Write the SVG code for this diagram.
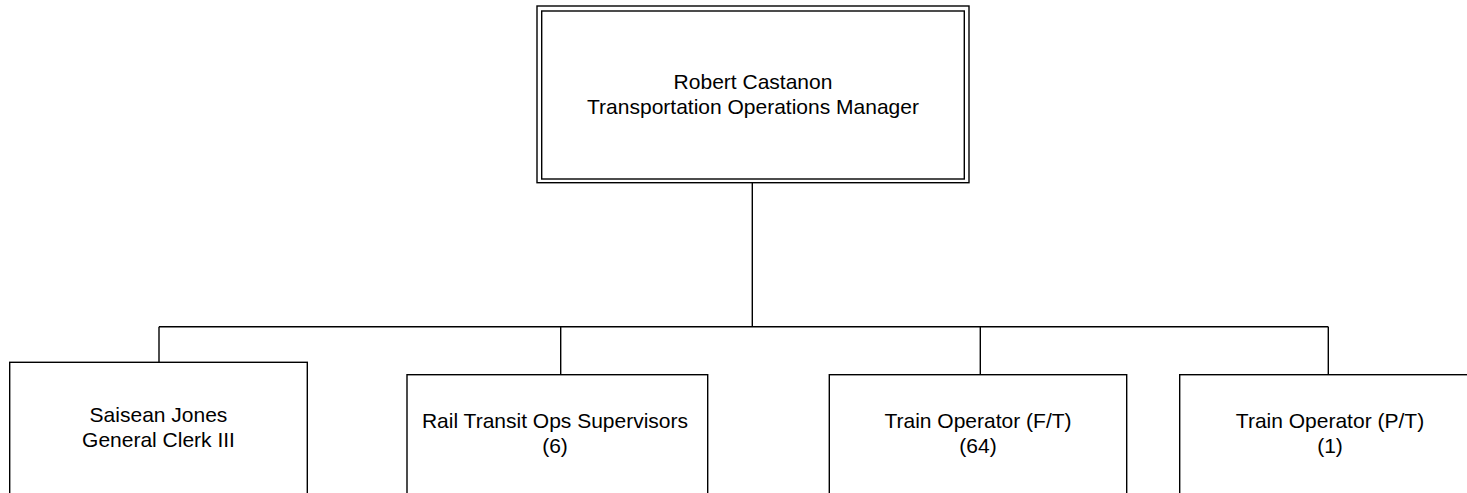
<svg xmlns="http://www.w3.org/2000/svg" width="1467" height="493" viewBox="0 0 1467 493">
  <style>
    .box { fill: #ffffff; stroke: #000000; stroke-width: 1.4; }
    .conn { fill: none; stroke: #000000; stroke-width: 1.4; }
    .lbl { font-family: "Liberation Sans", Arial, sans-serif; font-size: 21px; fill: #000000; text-anchor: middle; }
  </style>
  <rect x="0" y="0" width="1467" height="493" fill="#ffffff"/>
  <g id="connectors">
    <line class="conn" x1="752.3" y1="182.7" x2="752.3" y2="326.7"/>
    <line class="conn" x1="159" y1="326.7" x2="1328.3" y2="326.7"/>
    <line class="conn" x1="159" y1="326.7" x2="159" y2="362.3"/>
    <line class="conn" x1="560.7" y1="326.7" x2="560.7" y2="374.7"/>
    <line class="conn" x1="980.3" y1="326.7" x2="980.3" y2="374.7"/>
    <line class="conn" x1="1328.3" y1="326.7" x2="1328.3" y2="374.7"/>
  </g>
  <g id="node-manager">
    <rect class="box" x="537" y="6" width="432" height="176.7"/>
    <rect class="box" x="541.7" y="11" width="422.6" height="168"/>
    <text class="lbl" x="753" y="89.3">Robert Castanon</text>
    <text class="lbl" x="753" y="114">Transportation Operations Manager</text>
  </g>
  <g id="node-clerk">
    <rect class="box" x="9.7" y="362.3" width="297.6" height="160"/>
    <text class="lbl" x="158.5" y="422.3">Saisean Jones</text>
    <text class="lbl" x="158.5" y="447.3">General Clerk III</text>
  </g>
  <g id="node-supervisors">
    <rect class="box" x="407" y="374.7" width="300.7" height="160"/>
    <text class="lbl" x="555" y="428">Rail Transit Ops Supervisors</text>
    <text class="lbl" x="555" y="453">(6)</text>
  </g>
  <g id="node-operator-ft">
    <rect class="box" x="829.3" y="374.7" width="297.4" height="160"/>
    <text class="lbl" x="978" y="428">Train Operator (F/T)</text>
    <text class="lbl" x="978" y="453">(64)</text>
  </g>
  <g id="node-operator-pt">
    <rect class="box" x="1179.7" y="374.7" width="297.4" height="160"/>
    <text class="lbl" x="1330" y="428">Train Operator (P/T)</text>
    <text class="lbl" x="1330" y="453">(1)</text>
  </g>
</svg>
